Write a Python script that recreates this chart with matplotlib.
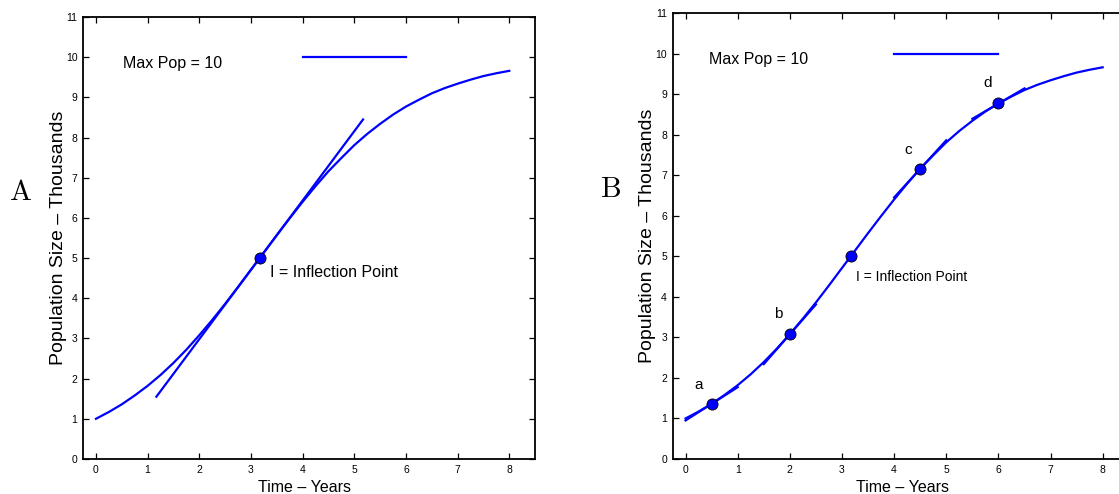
import matplotlib.pyplot as plt

# values (population in thousands)
time_years = [
    0, 0.25, 0.5, 0.75, 1, 1.25, 1.5, 1.75, 2, 2.25, 2.5, 2.75, 3,
    3.25, 3.5, 3.75, 4, 4.25, 4.5, 4.75, 5, 5.25, 5.5, 5.75, 6,
    6.25, 6.5, 6.75, 7, 7.25, 7.5, 7.75, 8,
]
population = [
    1.00, 1.17, 1.36, 1.58, 1.82, 2.09, 2.39, 2.72, 3.08, 3.46, 3.86,
    4.28, 4.71, 5.14, 5.57, 5.99, 6.40, 6.79, 7.16, 7.49, 7.81, 8.09,
    8.34, 8.57, 8.77, 8.94, 9.10, 9.23, 9.34, 9.44, 9.53, 9.60, 9.66,
]

max_pop_x = [4, 6]
max_pop_y = [10, 10]

inflection_x = [3.17]
inflection_y = [5.0]

# panel A: one long tangent through the inflection point
tangent_a_x = [1.17, 5.17]
tangent_a_y = [1.55, 8.45]

# panel B: short tangents at points a, b, c, d
point_labels = ["a", "b", "c", "d"]
point_x = [0.5, 2.0, 4.5, 6.0]
point_y = [1.36, 3.08, 7.16, 8.77]
tangent_b_x = [[0, 1], [1.5, 2.5], [4, 5], [5.5, 6.5]]
tangent_b_y = [[0.95, 1.77], [2.34, 3.81], [6.45, 7.86], [8.39, 9.14]]
label_x = [0.26, 1.77, 4.27, 5.79]
label_y = [1.83, 3.58, 7.63, 9.28]

BLUE = "#0000ff"

plt.rcParams["font.family"] = ["Liberation Sans", "DejaVu Sans"]


def style_axes(ax, xlabel_x, ylabel_x, right_ticks=True):
    ax.set_xlim(-0.25, 8.5)
    ax.set_ylim(0, 11)
    ax.set_xticks(range(0, 9))
    ax.set_yticks(range(0, 12))
    ax.tick_params(
        direction="in",
        top=True,
        right=right_ticks,
        length=4,
        width=0.9,
        labelsize=7.5,
        pad=4,
    )
    for spine in ax.spines.values():
        spine.set_linewidth(1.3)
    ax.set_xlabel("Time – Years", fontsize=11.5)
    ax.set_ylabel("Population Size – Thousands", fontsize=14)
    ax.xaxis.set_label_coords(xlabel_x, -0.048)
    ax.yaxis.set_label_coords(ylabel_x, 0.5)
    ax.plot(max_pop_x, max_pop_y, color=BLUE, linewidth=1.6)
    ax.plot(time_years, population, color=BLUE, linewidth=1.6)


def draw_marker(ax, x, y):
    ax.plot(
        x,
        y,
        "o",
        markersize=8,
        markerfacecolor=BLUE,
        markeredgecolor="black",
        markeredgewidth=0.6,
        zorder=5,
    )


fig = plt.figure(figsize=(11.19, 4.94), dpi=100)

ax_a = fig.add_axes([0.0742, 0.0709, 0.404, 0.8947])
ax_b = fig.add_axes([0.601, 0.0709, 0.4077, 0.9028])

# panel A
style_axes(ax_a, 0.491, -0.035)
ax_a.plot(tangent_a_x, tangent_a_y, color=BLUE, linewidth=1.6)
draw_marker(ax_a, inflection_x, inflection_y)
ax_a.text(0.52, 9.85, "Max Pop = 10", fontsize=11.5, va="center")
ax_a.text(3.36, 4.63, "I = Inflection Point", fontsize=11.5, va="center")

# panel B (its right edge runs past the figure)
style_axes(ax_b, 0.505, -0.036, right_ticks=False)
ax_b.spines["right"].set_visible(False)
for xs, ys in zip(tangent_b_x, tangent_b_y):
    ax_b.plot(xs, ys, color=BLUE, linewidth=1.6)
draw_marker(ax_b, point_x, point_y)
draw_marker(ax_b, inflection_x, inflection_y)
for name, lx, ly in zip(point_labels, label_x, label_y):
    ax_b.text(lx, ly, name, fontsize=11, ha="center", va="center")
ax_b.text(0.45, 9.85, "Max Pop = 10", fontsize=11.5, va="center")
ax_b.text(3.27, 4.49, "I = Inflection Point", fontsize=10, va="center")

fig.text(0.009, 0.595, "A", fontsize=21, fontfamily="cmr10")
fig.text(0.537, 0.601, "B", fontsize=21, fontfamily="cmr10")

fig.savefig("out.png", dpi=100)
